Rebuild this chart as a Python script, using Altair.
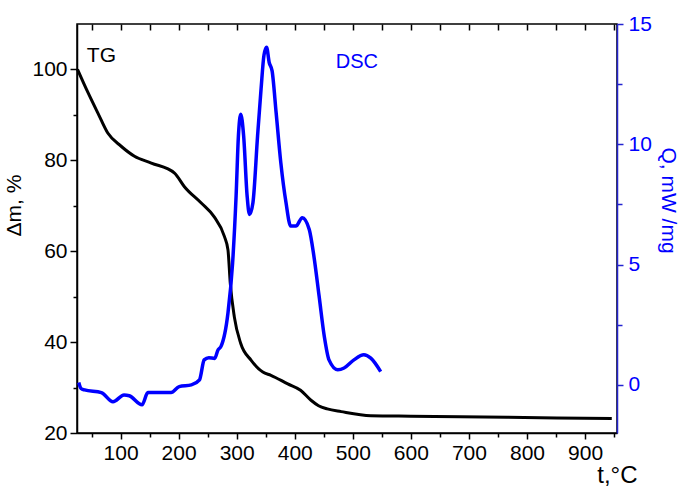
import altair as alt
import pandas as pd

# TG curve (mass loss, %)
tg_T = [26, 44, 61, 78, 101, 124, 153, 193, 210, 239, 261, 279, 285, 289, 296,
        307, 325, 345, 359, 388, 410, 428, 441, 456, 480, 531, 600, 685, 851, 946]
tg_m = [100, 94.9, 90.4, 86.0, 83.1, 80.9, 79.4, 77.2, 74.2, 70.6, 67.6, 63.2, 60.3, 52.9, 45.5,
        39.7, 36.0, 33.4, 32.7, 30.8, 29.4, 27.2, 26.0, 25.3, 24.7, 23.8, 23.7, 23.6, 23.3, 23.2]

# DSC curve (heat flow, mW/mg)
dsc_T = [28, 32, 38, 67, 87, 106, 115, 137, 147, 187, 201, 222, 236, 244, 252, 262, 268, 273,
         285, 293, 299, 303, 307, 312, 318, 322, 328, 336, 342, 347, 351.5, 356, 361, 368, 376,
         385, 393, 402, 413, 425, 433, 442, 451, 459, 474, 485, 502, 519, 531, 548]
dsc_Q = [0.1, -0.15, -0.21, -0.32, -0.7, -0.42, -0.45, -0.83, -0.32, -0.32, -0.07, 0.0, 0.21, 1.04,
         1.13, 1.1, 1.46, 1.6, 2.99, 5.07, 7.85, 10.35, 11.25, 10.35, 7.85, 7.08, 7.57, 10.35, 12.3,
         13.7, 14.03, 13.4, 13.05, 11.3, 9.24, 7.57, 6.6, 6.6, 6.95, 6.46, 5.35, 3.68, 2.0, 1.04,
         0.63, 0.7, 1.04, 1.25, 1.11, 0.55]

x_ticks = list(range(50, 951, 50))
left_ticks = list(range(20, 101, 10))
right_ticks = [0, 2.5, 5, 7.5, 10, 12.5, 15]

tg_label = pd.DataFrame({"T": [67], "v": [102.9], "label": ["TG"]})
dsc_label = pd.DataFrame({"T": [507], "v": [13.4], "label": ["DSC"]})

FONT = "Liberation Sans"
BLUE = "#0000ff"
AXBLUE = "#2424d0"

xscale = alt.Scale(domain=[25, 955], nice=False, zero=False)
yscale_l = alt.Scale(domain=[20, 110], nice=False, zero=False)
yscale_r = alt.Scale(domain=[-2, 15], nice=False, zero=False)

tg_df = pd.DataFrame({"T": tg_T, "m": tg_m})
dsc_df = pd.DataFrame({"T": dsc_T, "Q": dsc_Q})

bottom_axis = alt.Axis(
    orient="bottom", values=x_ticks, title="t,°C", grid=False,
    labelExpr="datum.value % 100 === 0 ? datum.label : ''",
    tickSize={"condition": {"test": "datum.value % 100 === 0", "value": 6}, "value": 4},
    tickColor="black", domainColor="black", domainWidth=1.5, tickWidth=1.5,
    labelFont=FONT, labelFontSize=21, labelColor="black", labelPadding=3,
    titleFont=FONT, titleFontSize=24, titleFontWeight="normal", titleColor="black",
    titleAnchor="end", titleAlign="right", titleBaseline="alphabetic",
    titleX=560, titleY=49,
)
left_axis = alt.Axis(
    orient="left", values=left_ticks, title="Δm, %", grid=False,
    labelExpr="datum.value % 20 === 0 ? datum.label : ''",
    tickSize={"condition": {"test": "datum.value % 20 === 0", "value": 7}, "value": 4},
    tickColor="black", domainColor="black", domainWidth=1.5, tickWidth=1.5,
    labelFont=FONT, labelFontSize=21, labelColor="black", labelPadding=3,
    titleFont=FONT, titleFontSize=21, titleFontWeight="normal", titleColor="black",
    titleAngle=270, titleAlign="center", titleBaseline="bottom", titleX=-53, titleY=181,
)
top_axis = alt.Axis(
    orient="top", values=x_ticks, title=None, grid=False, labels=False, domain=False,
    tickSize=6, offset=-6, tickColor="black", tickWidth=1.5,
)
right_axis = alt.Axis(
    orient="right", values=right_ticks, title="Q, mW /mg", grid=False,
    labelExpr="datum.value % 5 === 0 ? datum.label : ''",
    tickSize={"condition": {"test": "datum.value % 5 === 0", "value": 6}, "value": 5},
    tickColor=AXBLUE, domainColor=AXBLUE, domainWidth=1.5, tickWidth=1.5,
    labelFont=FONT, labelFontSize=21, labelColor=BLUE, labelPadding=5,
    titleFont=FONT, titleFontSize=21, titleFontWeight="normal", titleColor=BLUE,
    titleAngle=90, titleAlign="center", titleBaseline="bottom", titleX=40, titleY=176,
)

tg_line = alt.Chart(tg_df).mark_line(color="black", strokeWidth=3, interpolate="monotone").encode(
    x=alt.X("T:Q", scale=xscale, axis=bottom_axis),
    y=alt.Y("m:Q", scale=yscale_l, axis=left_axis),
)
tg_text = alt.Chart(tg_label).mark_text(font=FONT, fontSize=21, color="black").encode(
    x=alt.X("T:Q", scale=xscale, axis=bottom_axis),
    y=alt.Y("v:Q", scale=yscale_l, axis=left_axis),
    text="label:N",
)
dsc_line = alt.Chart(dsc_df).mark_line(color=BLUE, strokeWidth=3.5, interpolate="monotone").encode(
    x=alt.X("T:Q", scale=xscale, axis=top_axis),
    y=alt.Y("Q:Q", scale=yscale_r, axis=right_axis),
)
dsc_text = alt.Chart(dsc_label).mark_text(font=FONT, fontSize=20, color=BLUE).encode(
    x=alt.X("T:Q", scale=xscale, axis=top_axis),
    y=alt.Y("v:Q", scale=yscale_r, axis=right_axis),
    text="label:N",
)

chart = alt.layer(
    alt.layer(tg_line, tg_text),
    alt.layer(dsc_line, dsc_text),
).resolve_scale(x="independent", y="independent").properties(
    width=540, height=409,
    autosize=alt.AutoSizeParams(type="none"),
    padding={"left": 77, "top": 24, "right": 62, "bottom": 53},
    background="white",
).configure_view(stroke="black", strokeWidth=1.5)

chart.save("out.html", embed_options={"renderer": "svg", "actions": False})
